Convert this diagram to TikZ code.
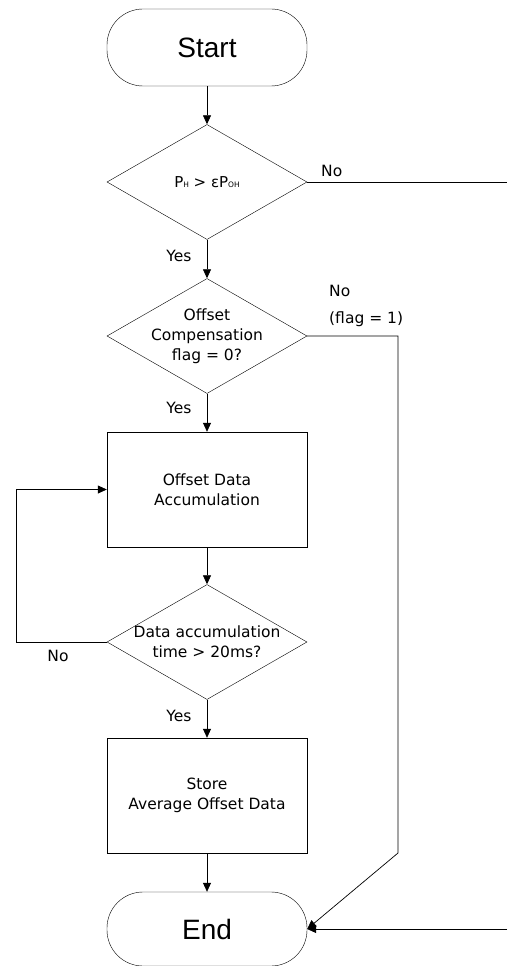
\documentclass[tikz,border=0pt]{standalone}
\usepackage{fontspec}
\setmainfont{DejaVu Sans}
\newfontfamily\bigfont{Liberation Sans}
\usetikzlibrary{shapes.geometric,arrows.meta,positioning}

\tikzset{
  terminal/.style={draw, rounded corners=36pt, minimum width=200pt, minimum height=77pt, inner sep=0pt, font=\bigfont\fontsize{28}{30}\selectfont},
  process/.style={draw, minimum width=200pt, minimum height=115pt, inner sep=0pt, align=center},
  decision/.style={draw, diamond, minimum width=200pt, minimum height=115pt, inner sep=0pt},
  dtext/.style={align=center, inner sep=0pt},
  lbl/.style={inner sep=0pt},
  line/.style={line width=0.7pt},
  arrow/.style={line, -{Triangle[width=8pt,length=9pt]}}
}

\begin{document}
\begin{tikzpicture}[x=1pt, y=-1pt, font=\fontsize{15.5}{20}\selectfont]
  \useasboundingbox (0,0) rectangle (507,966);

  % blocks
  \node[terminal] (start) at (207,47.5) {Start};
  \node[decision] (d1) at (207,182) {};
  \node[dtext, font=\fontsize{15}{18}\selectfont] (d1t) at (d1) {P{\fontsize{7.5}{8}\selectfont H} > εP{\fontsize{7.5}{8}\selectfont OH}};
  \node[decision] (d2) at (207,336) {};
  \node[dtext] (d2t) at (d2) {Offset\\Compensation\\flag = 0?};
  \node[process] (acc) at (207,489.5) {Offset Data\\Accumulation};
  \node[decision] (d3) at (207,642) {};
  \node[dtext] (d3t) at (d3) {Data accumulation\\time > 20ms?};
  \node[process] (store) at (207,795.5) {Store\\Average Offset Data};
  \node[terminal, minimum height=74pt] (end) at (207,929) {End};

  % free ends and corners
  \coordinate (r1) at (507,182);
  \coordinate (k1) at (398,853);
  \coordinate (r2) at (507,929);
  \coordinate (lp) at (16,642);

  % main flow
  \draw[arrow] (start) -- (d1);
  \draw[arrow] (d1) -- (d2);
  \draw[arrow] (d2) -- (acc);
  \draw[arrow] (acc) -- (d3);
  \draw[arrow] (d3) -- (store);
  \draw[arrow] (store) -- (end);

  % branches
  \draw[line] (d1.east) -- (r1);
  \draw[arrow] (d2.east) -| (k1) -- (end.east);
  \draw[arrow] (r2) -- (end.east);
  \draw[arrow] (d3.west) -- (lp) |- (acc.west);

  % labels
  \node[lbl, anchor=west] (no1) at (321,171) {No};
  \node[lbl, anchor=center] (yes1) at (179,256) {Yes};
  \node[lbl, anchor=west, align=left] (no2) at (329,306) {No\\[7pt](flag = 1)};
  \node[lbl, anchor=center] (yes2) at (179,408) {Yes};
  \node[lbl, anchor=center] (no3) at (58,656) {No};
  \node[lbl, anchor=center] (yes3) at (179,716) {Yes};
\end{tikzpicture}
\end{document}
